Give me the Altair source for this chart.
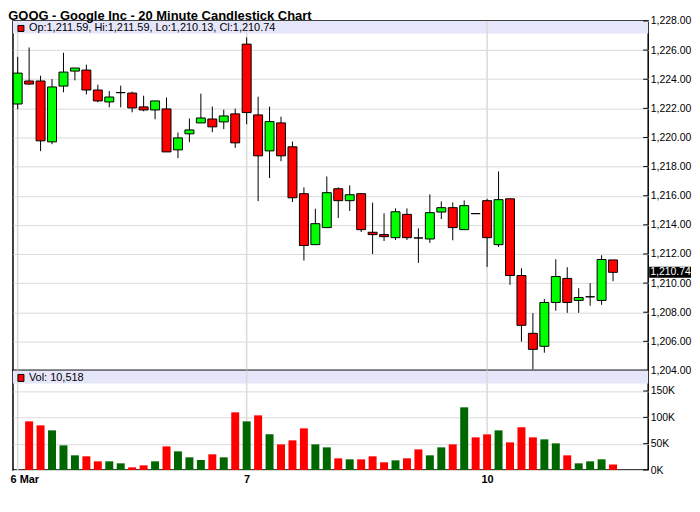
import altair as alt
import pandas as pd

# ---- data ----
opens = [1222.30, 1223.88, 1223.88, 1219.70, 1223.53, 1224.56, 1224.63, 1223.26, 1222.44, 1223.08,
         1223.05, 1222.10, 1221.89, 1221.96, 1219.15, 1220.25, 1221.00, 1221.27, 1221.07, 1221.62,
         1226.41, 1221.55, 1219.08, 1221.00, 1219.36, 1216.14, 1212.64, 1213.81, 1216.48, 1215.66,
         1216.14, 1213.49, 1213.33, 1213.12, 1214.72, 1213.10, 1213.03, 1214.88, 1215.18, 1213.67,
         1214.77, 1215.66, 1212.64, 1215.79, 1210.52, 1206.55, 1205.66, 1208.67, 1210.32, 1208.81,
         1209.06, 1208.81, 1211.59]
highs = [1225.54, 1226.18, 1224.24, 1224.01, 1225.82, 1224.77, 1225.00, 1223.63, 1223.19, 1223.56,
         1223.15, 1222.87, 1222.51, 1222.74, 1220.34, 1221.30, 1223.01, 1222.12, 1221.91, 1221.98,
         1226.87, 1222.80, 1222.12, 1221.43, 1219.72, 1216.57, 1215.11, 1217.32, 1216.57, 1216.71,
         1216.14, 1215.52, 1214.79, 1215.13, 1215.13, 1213.76, 1216.09, 1215.61, 1215.54, 1215.68,
         1214.77, 1215.79, 1217.67, 1215.79, 1211.02, 1207.94, 1208.90, 1211.64, 1211.09, 1209.65,
         1210.00, 1211.91, 1211.59]
lows = [1221.94, 1223.60, 1219.06, 1219.54, 1223.10, 1223.92, 1222.96, 1222.42, 1222.07, 1222.07,
        1221.73, 1221.80, 1221.25, 1219.01, 1218.58, 1219.68, 1221.00, 1220.36, 1220.57, 1219.29,
        1220.91, 1215.63, 1217.21, 1218.37, 1215.57, 1211.55, 1212.64, 1213.81, 1214.47, 1214.95,
        1213.51, 1212.00, 1212.89, 1212.96, 1212.96, 1211.39, 1212.76, 1214.40, 1212.94, 1213.67,
        1214.77, 1211.11, 1212.48, 1209.88, 1205.98, 1204.08, 1205.22, 1208.10, 1207.96, 1207.96,
        1208.44, 1208.51, 1210.13]
closes = [1224.42, 1223.67, 1219.77, 1223.47, 1224.49, 1224.77, 1223.26, 1222.51, 1222.78, 1223.08,
          1222.03, 1221.89, 1222.51, 1219.01, 1219.97, 1220.52, 1221.34, 1220.73, 1221.48, 1219.63,
          1221.71, 1218.74, 1221.09, 1218.74, 1215.86, 1212.58, 1214.08, 1216.21, 1215.66, 1216.07,
          1213.67, 1213.33, 1213.19, 1214.90, 1213.12, 1213.10, 1214.84, 1215.18, 1213.81, 1215.32,
          1214.77, 1213.12, 1215.73, 1210.52, 1207.10, 1205.45, 1208.67, 1210.45, 1208.67, 1209.01,
          1209.06, 1211.62, 1210.74]
volumes = [None, 92400, 84800, 75300, 46800, 27900, 26000, 16500, 16500, 12700,
           5100, 8900, 16500, 44900, 35400, 24100, 19000, 29800, 24100, 109500,
           92400, 103800, 67700, 48700, 56300, 79100, 48700, 43000, 22200, 20300,
           20300, 26000, 14600, 18400, 22200, 39200, 27900, 43000, 48700, 119000,
           62000, 67700, 75300, 52500, 81000, 62000, 58200, 50600, 27900, 12700,
           16500, 20300, 10518]
day_ticks = [0, 20, 41]
day_labels = ["6 Mar", "7", "10"]
price_ticks = [1204, 1206, 1208, 1210, 1212, 1214, 1216, 1218, 1220, 1222, 1224, 1226, 1228]
volume_ticks = [0, 50000, 100000, 150000]
title_text = "GOOG - Google Inc - 20 Minute Candlestick Chart"

# ---- table ----
n = len(closes)
df = pd.DataFrame({"i": list(range(n)), "open": opens, "high": highs, "low": lows,
                   "close": closes, "volume": volumes})
df["dir"] = ["up" if c > o else ("down" if c < o else "flat") for o, c in zip(opens, closes)]
prev = [None] + closes[:-1]
df["vdir"] = ["up" if (p is not None and c >= p) else "down" for p, c in zip(prev, closes)]

header_p = "Op:{:,.2f}, Hi:{:,.2f}, Lo:{:,.2f}, Cl:{:,.2f}".format(opens[-1], highs[-1], lows[-1], closes[-1])
header_v = "Vol: {:,}".format(volumes[-1])

FONT = "Liberation Sans"
W, HP, HV = 638, 351, 100
GRID = "#dadada"
LFS = 10.5

xscale = alt.Scale(domain=[-0.41, 55.07], nice=False, zero=False, padding=0)
pscale = alt.Scale(domain=[1204, 1228], nice=False, zero=False, padding=0)
vscale = alt.Scale(domain=[0, 189000], nice=False, zero=False, padding=0)

paxis = alt.Axis(orient="right", values=price_ticks, format=",.2f", grid=True, gridColor=GRID,
                 gridWidth=1, ticks=False, domain=False, labelPadding=2, labelFontSize=LFS,
                 labelFont=FONT, labelColor="#000000", title=None, labelOverlap=False,
                 labelFlush=False, labelBound=False)
vaxis = alt.Axis(orient="right", values=volume_ticks,
                 labelExpr="format(datum.value / 1000, 'd') + 'K'", grid=True, gridColor=GRID,
                 gridWidth=1, ticks=False, domain=False, labelPadding=2, labelFontSize=LFS,
                 labelFont=FONT, labelColor="#000000", title=None, labelOverlap=False,
                 labelFlush=False, labelBound=False)
day_expr = " : ".join("datum.value == {} ? '{}'".format(t, l) for t, l in zip(day_ticks, day_labels)) + " : ''"
xaxis = alt.Axis(values=day_ticks, labelExpr=day_expr, ticks=False, domain=False, grid=False,
                 labelFontWeight="bold", labelFontSize=11, labelFont=FONT, labelColor="#000000",
                 labelPadding=4, labelFlush=10, labelFlushOffset=7.7, title=None, labelOverlap=False)

one = pd.DataFrame({"k": [0]})
days_df = pd.DataFrame({"d": day_ticks})

# ---- price panel ----
band_p = alt.Chart(one).mark_rect(color="#e6e6fa").encode(
    x=alt.value(0), x2=alt.value(W), y=alt.value(0), y2=alt.value(12.5))
vgrid_p = alt.Chart(days_df).mark_rule(color=GRID, strokeWidth=1.5).encode(
    x=alt.X("d:Q", scale=xscale, axis=None))
wicks = alt.Chart(df).mark_rule(color="black", strokeWidth=1).encode(
    x=alt.X("i:Q", scale=xscale, axis=None),
    y=alt.Y("low:Q", scale=pscale, axis=paxis), y2="high:Q")
bodies = alt.Chart(df).mark_bar(size=9, stroke="black", strokeWidth=1).encode(
    x=alt.X("i:Q", scale=xscale, axis=None),
    y=alt.Y("open:Q", scale=pscale, axis=paxis), y2="close:Q",
    color=alt.Color("dir:N", scale=alt.Scale(domain=["up", "down", "flat"],
                                             range=["#00ff00", "#ff0000", "#000000"]), legend=None))
pticks = alt.Chart(pd.DataFrame({"v": price_ticks})).mark_rule(color="black").encode(
    y=alt.Y("v:Q", scale=pscale, axis=paxis), x=alt.value(W - 5), x2=alt.value(W))
icon_p = alt.Chart(one).mark_rect(fill="#ff0000", stroke="black", strokeWidth=1).encode(
    x=alt.value(5), x2=alt.value(11), y=alt.value(4.5), y2=alt.value(10.5))
text_p = alt.Chart(pd.DataFrame({"t": [header_p]})).mark_text(
    align="left", baseline="middle", fontSize=11, font=FONT, color="black").encode(
    x=alt.value(16), y=alt.value(7.5), text="t:N")
last_df = pd.DataFrame({"c": [closes[-1]]})
box = alt.Chart(last_df).transform_calculate(
    hi="datum.c + 0.38", lo="datum.c - 0.38").mark_rect(color="black").encode(
    y=alt.Y("hi:Q", scale=pscale, axis=paxis), y2="lo:Q", x=alt.value(W + 1), x2=alt.value(W + 43))
box_text = alt.Chart(last_df).mark_text(
    align="left", baseline="middle", fontSize=LFS, font=FONT, color="white").encode(
    y=alt.Y("c:Q", scale=pscale, axis=paxis), x=alt.value(W + 2),
    text=alt.Text("c:Q", format=",.2f"))

price = alt.layer(band_p, vgrid_p, wicks, bodies, pticks, icon_p, text_p, box, box_text).properties(
    width=W, height=HP)

# ---- volume panel ----
band_v = alt.Chart(one).mark_rect(color="#e6e6fa").encode(
    x=alt.value(0), x2=alt.value(W), y=alt.value(0), y2=alt.value(13))
vgrid_v = alt.Chart(days_df).mark_rule(color=GRID, strokeWidth=1.5).encode(
    x=alt.X("d:Q", scale=xscale, axis=xaxis))
vbars = alt.Chart(df).transform_filter("isValid(datum.volume)").mark_bar(size=8).encode(
    x=alt.X("i:Q", scale=xscale, axis=xaxis),
    y=alt.Y("volume:Q", scale=vscale, axis=vaxis), y2=alt.datum(0),
    color=alt.Color("vdir:N", scale=alt.Scale(domain=["up", "down"], range=["#006600", "#ff0000"]),
                    legend=None))
vticks = alt.Chart(pd.DataFrame({"v": volume_ticks})).mark_rule(color="black").encode(
    y=alt.Y("v:Q", scale=vscale, axis=vaxis), x=alt.value(W - 5), x2=alt.value(W))
icon_v = alt.Chart(one).mark_rect(fill="#ff0000", stroke="black", strokeWidth=1).encode(
    x=alt.value(5), x2=alt.value(11), y=alt.value(4), y2=alt.value(11))
text_v = alt.Chart(pd.DataFrame({"t": [header_v]})).mark_text(
    align="left", baseline="middle", fontSize=11, font=FONT, color="black").encode(
    x=alt.value(16), y=alt.value(7.5), text="t:N")

volume = alt.layer(band_v, vgrid_v, vbars, vticks, icon_v, text_v).properties(width=W, height=HV)

chart = alt.vconcat(price, volume, spacing=0, bounds="flush").resolve_scale(
    color="independent").properties(
    title=alt.TitleParams(title_text, anchor="start", fontSize=13, fontWeight="bold", font=FONT,
                          color="black", offset=-7.5, dx=-1),
    padding={"left": 0, "top": 0, "right": 0, "bottom": 0},
).configure_view(stroke="black", strokeWidth=1.5)

chart.save("out.html", embed_options={"renderer": "svg", "actions": False})
